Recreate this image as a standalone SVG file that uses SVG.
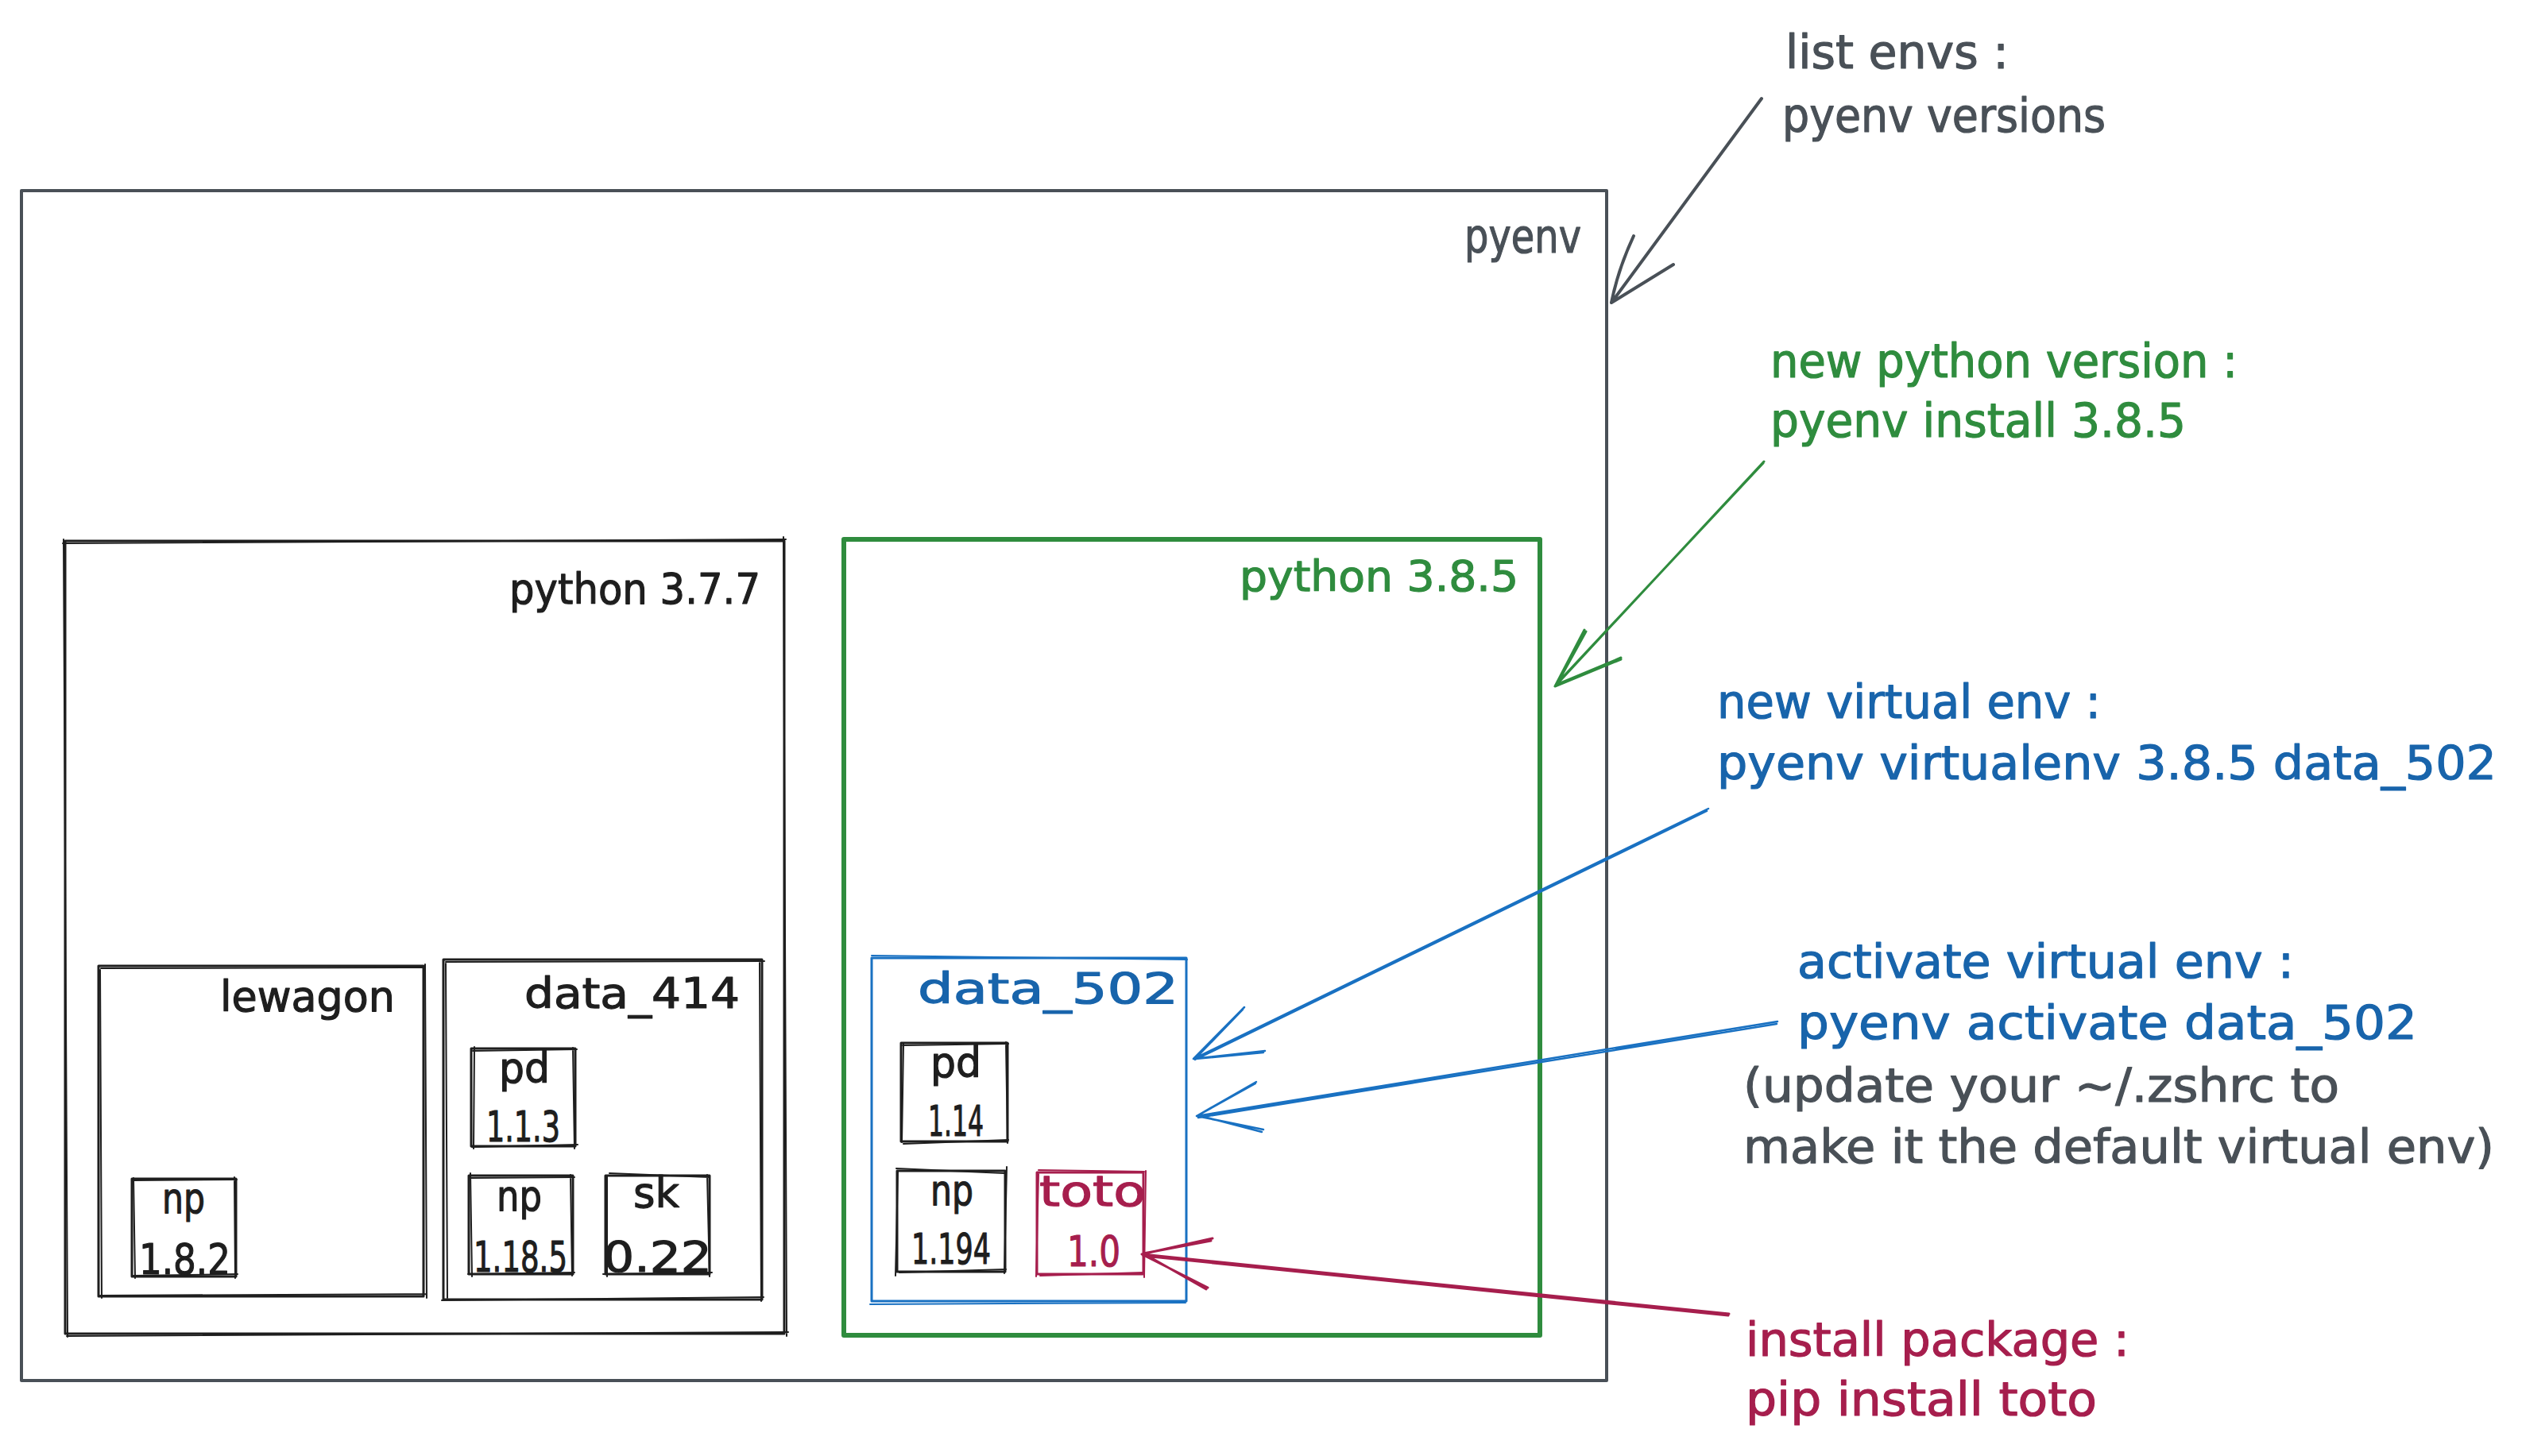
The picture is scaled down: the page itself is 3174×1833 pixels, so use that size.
<svg xmlns="http://www.w3.org/2000/svg" width="3174" height="1833" viewBox="0 0 3174 1833">
<style>
text{font-family:"DejaVu Sans","Liberation Sans",sans-serif;stroke-width:1.2;stroke-linejoin:round;}
.lbl{font-size:54px;}
.ann{font-size:58px;}
.box{fill:none;stroke-linecap:round;stroke-linejoin:round;}
.k{stroke:#1e1e1e;stroke-width:3;}
.k2{stroke:#1e1e1e;stroke-width:2;}
.gy{stroke:#495057;stroke-width:4;}
.gn{stroke:#2f8c3e;stroke-width:6;}
.bl{stroke:#1971c2;stroke-width:3;}
.bl2{stroke:#1971c2;stroke-width:2;}
.cr{stroke:#a61e4d;stroke-width:3;}
.cr2{stroke:#a61e4d;stroke-width:2;}
.tk{fill:#1e1e1e;stroke:#1e1e1e;}
.tg{fill:#495057;stroke:#495057;}
.tgn{fill:#2f8c3e;stroke:#2f8c3e;}
.tb{fill:#1864ab;stroke:#1864ab;}
.tc{fill:#a61e4d;stroke:#a61e4d;}
.ar{fill:none;stroke-linecap:round;stroke-linejoin:round;}
</style>
<rect x="0" y="0" width="3174" height="1833" fill="#ffffff"/>

<g id="pyenv">
<rect class="box gy" x="27" y="240" width="1995" height="1498"/>
<text class="lbl tg" x="1843" y="318" textLength="147" lengthAdjust="spacingAndGlyphs" style="font-size:58px">pyenv</text>
</g>

<g id="python377">
<rect class="box k" x="82" y="681" width="905" height="998"/>
<path class="box k2" d="M79,684 L989,679 M986,676 L990,1682 M992,1677 L84,1682 M85,1683 L80,679"/>
<text class="lbl tk" x="641" y="760" textLength="316" lengthAdjust="spacingAndGlyphs">python 3.7.7</text>
</g>

<g id="lewagon">
<rect class="box k" x="124" y="1216" width="409" height="416"/>
<path class="box k2" d="M127,1219 L532,1218 M535,1214 L537,1634 M536,1629 L126,1631 M128,1634 L126,1221"/>
<text class="lbl tk" x="277" y="1273" textLength="220" lengthAdjust="spacingAndGlyphs">lewagon</text>
</g>

<g id="np182">
<rect class="box k" x="166" y="1484" width="131" height="123"/>
<path class="box k2" d="M168,1486 L298,1485 M295,1482 L296,1609 M299,1604 L168,1606 M170,1609 L168,1483"/>
<text class="lbl tk" x="204" y="1527" textLength="54" lengthAdjust="spacingAndGlyphs">np</text>
<text class="lbl tk" x="175" y="1604" textLength="115" lengthAdjust="spacingAndGlyphs">1.8.2</text>
</g>

<g id="data414">
<rect class="box k" x="558" y="1208" width="401" height="428"/>
<path class="box k2" d="M561,1211 L962,1210 M956,1212 L958,1638 M961,1633 L556,1637 M563,1634 L561,1213"/>
<text class="lbl tk" x="660" y="1269" textLength="271" lengthAdjust="spacingAndGlyphs">data_414</text>
</g>

<g id="pd113">
<rect class="box k" x="593" y="1320" width="131" height="123"/>
<path class="box k2" d="M595,1323 L726,1321 M721,1319 L723,1446 M727,1441 L594,1444 M596,1446 L597,1318"/>
<text class="lbl tk" x="628" y="1363" textLength="64" lengthAdjust="spacingAndGlyphs">pd</text>
<text class="lbl tk" x="612" y="1437" textLength="93" lengthAdjust="spacingAndGlyphs">1.1.3</text>
</g>

<g id="np1185">
<rect class="box k" x="590" y="1480" width="131" height="124"/>
<path class="box k2" d="M592,1483 L723,1482 M718,1479 L720,1606 M723,1602 L589,1604 M594,1607 L592,1477"/>
<text class="lbl tk" x="625" y="1524" textLength="57" lengthAdjust="spacingAndGlyphs">np</text>
<text class="lbl tk" x="596" y="1601" textLength="118" lengthAdjust="spacingAndGlyphs">1.18.5</text>
</g>

<g id="sk022">
<rect class="box k" x="762" y="1480" width="131" height="124"/>
<path class="box k2" d="M767,1477 L893,1482 M890,1479 L893,1607 M896,1602 L759,1604 M764,1607 L764,1481"/>
<text class="lbl tk" x="797" y="1520" textLength="58" lengthAdjust="spacingAndGlyphs">sk</text>
<text class="lbl tk" x="759" y="1601" textLength="137" lengthAdjust="spacingAndGlyphs">0.22</text>
</g>

<g id="python385">
<rect class="box gn" x="1062" y="679" width="876" height="1002"/>
<text class="lbl tgn" x="1560" y="744" textLength="351" lengthAdjust="spacingAndGlyphs">python 3.8.5</text>
</g>

<g id="data502">
<rect class="box bl" x="1097" y="1206" width="396" height="432"/>
<path class="box bl2" d="M1097,1203 L1494,1208 M1095,1642 L1492,1640"/>
<text class="lbl tb" x="1155" y="1263" textLength="328" lengthAdjust="spacingAndGlyphs">data_502</text>
</g>

<g id="pd114">
<rect class="box k" x="1134" y="1313" width="134" height="124"/>
<path class="box k2" d="M1136,1316 L1269,1314 M1266,1312 L1268,1439 M1269,1435 L1137,1440 M1135,1438 L1137,1314"/>
<text class="lbl tk" x="1171" y="1356" textLength="64" lengthAdjust="spacingAndGlyphs">pd</text>
<text class="lbl tk" x="1168" y="1430" textLength="70" lengthAdjust="spacingAndGlyphs">1.14</text>
</g>

<g id="np1194">
<rect class="box k" x="1129" y="1474" width="136" height="127"/>
<path class="box k2" d="M1128,1471 L1264,1477 M1267,1469 L1264,1603 M1266,1598 L1132,1602 M1127,1606 L1130,1475"/>
<text class="lbl tk" x="1171" y="1517" textLength="54" lengthAdjust="spacingAndGlyphs">np</text>
<text class="lbl tk" x="1147" y="1591" textLength="100" lengthAdjust="spacingAndGlyphs">1.194</text>
</g>

<g id="toto10">
<rect class="box cr" x="1305" y="1476" width="134" height="128"/>
<path class="box cr2" d="M1307,1473 L1440,1475 M1442,1474 L1440,1608 M1438,1602 L1309,1606 M1304,1607 L1307,1478"/>
<text class="lbl tc" x="1308" y="1518" textLength="134" lengthAdjust="spacingAndGlyphs">toto</text>
<text class="lbl tc" x="1343" y="1594" textLength="67" lengthAdjust="spacingAndGlyphs">1.0</text>
</g>

<g id="note-list">
<text class="ann tg" x="2247" y="86" textLength="281" lengthAdjust="spacingAndGlyphs">list envs :</text>
<text class="ann tg" x="2243" y="166" textLength="407" lengthAdjust="spacingAndGlyphs">pyenv versions</text>
</g>

<g id="note-python">
<text class="ann tgn" x="2228" y="475" textLength="588" lengthAdjust="spacingAndGlyphs">new python version :</text>
<text class="ann tgn" x="2228" y="550" textLength="523" lengthAdjust="spacingAndGlyphs">pyenv install 3.8.5</text>
</g>

<g id="note-virtualenv">
<text class="ann tb" x="2161" y="904" textLength="483" lengthAdjust="spacingAndGlyphs">new virtual env :</text>
<text class="ann tb" x="2161" y="981" textLength="981" lengthAdjust="spacingAndGlyphs">pyenv virtualenv 3.8.5 data_502</text>
</g>

<g id="note-activate">
<text class="ann tb" x="2262" y="1231" textLength="625" lengthAdjust="spacingAndGlyphs">activate virtual env :</text>
<text class="ann tb" x="2262" y="1308" textLength="780" lengthAdjust="spacingAndGlyphs">pyenv activate data_502</text>
<text class="ann tg" x="2194" y="1387" textLength="750" lengthAdjust="spacingAndGlyphs">(update your ~/.zshrc to</text>
<text class="ann tg" x="2194" y="1464" textLength="945" lengthAdjust="spacingAndGlyphs">make it the default virtual env)</text>
</g>

<g id="note-install">
<text class="ann tc" x="2197" y="1707" textLength="483" lengthAdjust="spacingAndGlyphs">install package :</text>
<text class="ann tc" x="2197" y="1782" textLength="442" lengthAdjust="spacingAndGlyphs">pip install toto</text>
</g>

<g id="connectors">
<path class="ar gy" d="M2217,124 L2028,381 M2056,297 Q2036,340 2028,381 L2106,333"/>
<path class="ar gn" style="stroke-width:3" d="M2220,581 L1957,864 M2219,583 L1958,862 M1994,793 L1957,864 L2040,830 M1996,795 L1959,862 L2040,828"/>
<path class="ar bl" style="stroke-width:2.5" d="M2150,1018 L1502,1333 M2148,1021 L1504,1334 M1566,1268 L1502,1333 L1592,1323 M1564,1271 L1504,1333 L1590,1325"/>
<path class="ar bl" style="stroke-width:2.5" d="M2237,1286 L1506,1405 M2236,1289 L1508,1407 M1581,1362 L1506,1405 L1590,1422 M1580,1364 L1508,1404 L1588,1425"/>
<path class="ar cr" style="stroke-width:3" d="M2176,1654 L1437,1579 M2175,1656 L1439,1581 M1526,1559 L1437,1579 L1520,1621 M1524,1562 L1439,1578 L1518,1623"/>
</g>
</svg>
